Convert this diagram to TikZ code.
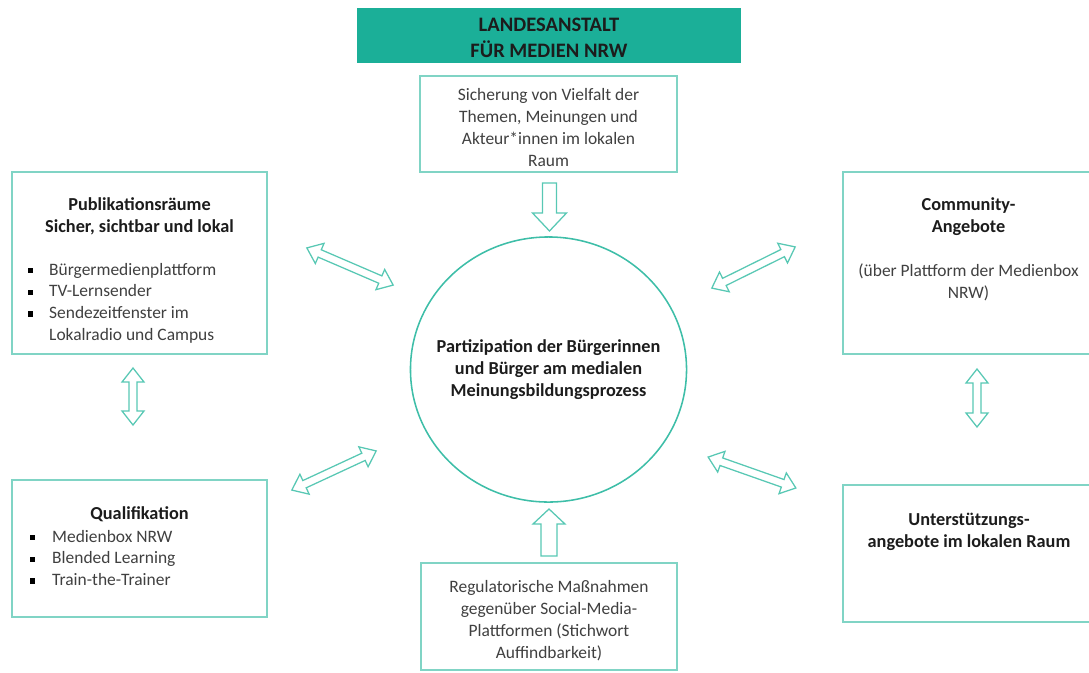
\documentclass[tikz,border=0pt]{standalone}
\usepackage{fontspec}
\setmainfont{Carlito}
\usetikzlibrary{positioning,shapes.geometric}

\definecolor{lfmteal}{RGB}{27,175,152}
\definecolor{boxrand}{RGB}{128,212,197}
\definecolor{kreisrand}{RGB}{62,190,168}
\definecolor{pfeilrand}{RGB}{88,200,180}
\definecolor{textgrau}{RGB}{64,64,64}
\definecolor{textdunkel}{RGB}{28,28,28}

% bullet square for the lists
\newcommand{\bpkt}{\textcolor{black}{\rule[0.28ex]{3.6pt}{3.6pt}}}

% hollow double block arrow: centre, angle, length (in px)
\newcommand{\doppelpfeil}[3]{%
  \draw[pfeil, shift={#1}, rotate=#2] (-#3/2,0) -- ++(14,11) -- ++(0,-7) -- (#3/2-14,4) -- ++(0,7)
    -- (#3/2,0) -- ++(-14,-11) -- ++(0,7) -- (-#3/2+14,-4) -- ++(0,-7) -- cycle;}

\tikzset{
  kasten/.style={draw=boxrand, line width=1.6pt, fill=white, inner sep=0pt},
  titel/.style={fill=lfmteal, minimum width=9.6cm, minimum height=1.375cm},
  titeltext/.style={text=textdunkel, font=\bfseries\fontsize{14.6}{18.4}\selectfont, align=center, inner sep=0pt},
  normal/.style={font=\fontsize{12.4}{15.6}\selectfont, text=textgrau, align=center, inner sep=0pt},
  fett/.style={font=\bfseries\fontsize{13}{15.6}\selectfont, text=textdunkel, align=center, inner sep=0pt},
  liste/.style={font=\fontsize{12.4}{15.6}\selectfont, text=textgrau, inner sep=0pt, anchor=base west},
  kreis/.style={ellipse, draw=kreisrand, line width=1.1pt, inner sep=0pt,
    minimum width=6.9cm, minimum height=6.625cm},
  pfeil/.style={draw=pfeilrand, line width=0.9pt, fill=white, line join=miter}
}

\begin{document}
\begin{tikzpicture}[x=0.025cm, y=-0.025cm]
  \useasboundingbox (0,0) rectangle (1089,672);
  \clip (0,0) rectangle (1089,672);

  % Header
  \node[titel] (lfm) at (549,35.5) {};
  \node[titeltext] (lfmtext) at (549,37.5) {LANDESANSTALT\\FÜR MEDIEN NRW};

  % Top and bottom boxes
  \node[kasten, minimum width=6.425cm, minimum height=2.4cm] (viel) at (548.5,124) {};
  \node[normal] (vieltext) at (548.5,127.5)
    {Sicherung von Vielfalt der\\Themen, Meinungen und\\Akteur*innen im lokalen\\Raum};
  \node[kasten, minimum width=6.4cm, minimum height=2.675cm] (reg) at (549,616.5) {};
  \node[normal] (regtext) at (549,620.5)
    {Regulatorische Maßnahmen\\gegenüber Social-Media-\\Plattformen (Stichwort\\Auffindbarkeit)};

  % Centre
  \node[kreis] (part) at (548.5,369.5) {};
  \node[fett] (parttext) at (part.center)
    {Partizipation der Bürgerinnen\\und Bürger am medialen\\Meinungsbildungsprozess};

  % Left boxes
  \node[kasten, minimum width=6.375cm, minimum height=4.55cm] (pub) at (139.5,263) {};
  \node[fett, anchor=base] (pubkopf) at (139.5,232) {Publikationsräume\\Sicher, sichtbar und lokal};
  \node[liste] (publiste) at (28,275) {\begin{tabular}[t]{@{}p{14.9pt}@{}l@{}}
      \bpkt & Bürgermedienplattform\\
      \bpkt & TV-Lernsender\\
      \bpkt & Sendezeitfenster im\\
            & Lokalradio und Campus
    \end{tabular}};

  \node[kasten, minimum width=6.375cm, minimum height=3.425cm] (qual) at (139.5,548.5) {};
  \node[fett, anchor=base] (qualkopf) at (139.5,519) {Qualifikation};
  \node[liste] (qualliste) at (30,542) {\begin{tabular}[t]{@{}p{15.6pt}@{}l@{}}
      \bpkt & Medienbox NRW\\
      \bpkt & Blended Learning\\
      \bpkt & Train-the-Trainer
    \end{tabular}};

  % Right boxes
  \node[kasten, minimum width=6.275cm, minimum height=4.55cm] (comm) at (968.5,263) {};
  \node[fett, anchor=base] (commkopf) at (968.5,232) {Community-\\Angebote};
  \node[normal, anchor=base] (commtext) at (968.5,298) {(über Plattform der Medienbox\\NRW)};

  \node[kasten, minimum width=6.275cm, minimum height=3.425cm] (unter) at (968.5,553.5) {};
  \node[fett, anchor=base] (unterkopf) at (969,547) {Unterstützungs-\\angebote im lokalen Raum};

  % Arrows into the circle
  \draw[pfeil] (542.5,183) -- (556.5,183) -- (556.5,213) -- (566.5,213) -- (549.5,231)
    -- (532.5,213) -- (542.5,213) -- cycle;
  \draw[pfeil] (541,556) -- (557,556) -- (557,524) -- (565,524) -- (549,509)
    -- (533,524) -- (541,524) -- cycle;

  % Double arrows
  \doppelpfeil{(350,266.5)}{-23.3}{94}
  \doppelpfeil{(334,470.5)}{24.9}{93}
  \doppelpfeil{(753.5,267.5)}{26.3}{93}
  \doppelpfeil{(752,472.5)}{-19.4}{93}
  \doppelpfeil{(133,396.5)}{90}{57}
  \doppelpfeil{(977,398)}{90}{58}
\end{tikzpicture}
\end{document}
